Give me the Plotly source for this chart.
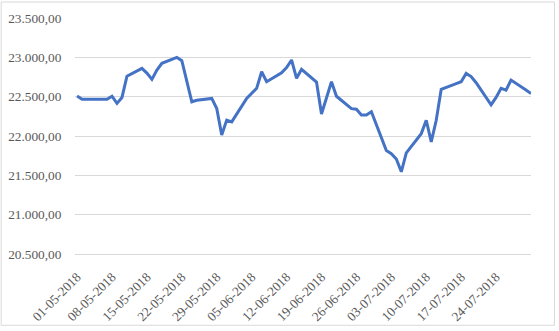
import plotly.graph_objects as go

dates = [
    "2018-05-01", "2018-05-02", "2018-05-03", "2018-05-04", "2018-05-07", "2018-05-08",
    "2018-05-09", "2018-05-10", "2018-05-11", "2018-05-14", "2018-05-15", "2018-05-16",
    "2018-05-17", "2018-05-18", "2018-05-21", "2018-05-22", "2018-05-23", "2018-05-24",
    "2018-05-25", "2018-05-28", "2018-05-29", "2018-05-30", "2018-05-31", "2018-06-01",
    "2018-06-04", "2018-06-05", "2018-06-06", "2018-06-07", "2018-06-08", "2018-06-11",
    "2018-06-12", "2018-06-13", "2018-06-14", "2018-06-15", "2018-06-18", "2018-06-19",
    "2018-06-20", "2018-06-21", "2018-06-22", "2018-06-25", "2018-06-26", "2018-06-27",
    "2018-06-28", "2018-06-29", "2018-07-02", "2018-07-03", "2018-07-04", "2018-07-05",
    "2018-07-06", "2018-07-09", "2018-07-10", "2018-07-11", "2018-07-12", "2018-07-13",
    "2018-07-16", "2018-07-17", "2018-07-18", "2018-07-19", "2018-07-20", "2018-07-23",
    "2018-07-24", "2018-07-25", "2018-07-26", "2018-07-27", "2018-07-30", "2018-07-31",
]
values = [
    22510, 22468, 22468, 22468, 22468, 22506,
    22415, 22490, 22760, 22860, 22800, 22720,
    22838, 22924, 23000, 22957, 22700, 22435,
    22455, 22478, 22350, 22012, 22202, 22180,
    22478, 22540, 22606, 22817, 22690, 22804,
    22870, 22966, 22733, 22847, 22685, 22279,
    22500, 22690, 22505, 22348, 22340, 22266,
    22266, 22308, 21815, 21775, 21708, 21545,
    21785, 22030, 22200, 21926, 22200, 22593,
    22665, 22690, 22796, 22755, 22677, 22395,
    22490, 22606, 22584, 22711, 22585, 22540,
]
tick_dates = [
    "2018-05-01", "2018-05-08", "2018-05-15", "2018-05-22", "2018-05-29", "2018-06-05",
    "2018-06-12", "2018-06-19", "2018-06-26", "2018-07-03", "2018-07-10", "2018-07-17",
    "2018-07-24",
]
tick_labels = [
    "01-05-2018", "08-05-2018", "15-05-2018", "22-05-2018", "29-05-2018", "05-06-2018",
    "12-06-2018", "19-06-2018", "26-06-2018", "03-07-2018", "10-07-2018", "17-07-2018",
    "24-07-2018",
]

W, H = 559, 331
ML, MR, MT, MB = 74.5, 27.5, 18, 77.2
pw, ph = W - ML - MR, H - MT - MB

font = dict(family="Liberation Serif, Times New Roman, serif", size=13.3, color="#595959")

fig = go.Figure()
fig.add_trace(go.Scatter(
    x=dates, y=values, mode="lines",
    line=dict(color="#4472C4", width=3, shape="linear"),
    hoverinfo="skip",
))

def px_x(p):
    return (p - ML) / pw

def px_y(p):
    return (H - MB - p) / ph

fig.add_shape(type="rect", xref="paper", yref="paper",
              x0=px_x(0.5), x1=px_x(555), y0=px_y(325), y1=px_y(2),
              line=dict(color="#d9d9d9", width=1), layer="below")

fig.update_layout(
    width=W, height=H,
    margin=dict(l=ML, r=MR, t=MT, b=MB, pad=0, autoexpand=False),
    paper_bgcolor="white", plot_bgcolor="white",
    showlegend=False,
    separators=",.",
    font=font,
    xaxis=dict(
        type="date", automargin=False,
        range=["2018-04-30 14:00", "2018-07-31"],
        tickmode="array", tickvals=tick_dates, ticktext=tick_labels,
        tickangle=-45, tickfont=font,
        showgrid=False, zeroline=False,
        showline=True, linecolor="#d9d9d9", linewidth=1,
        ticks="outside", ticklen=9, tickcolor="rgba(0,0,0,0)",
    ),
    yaxis=dict(
        automargin=False,
        range=[20500, 23500],
        tickmode="linear", tick0=20500, dtick=500,
        tickformat=",.2f", tickfont=font,
        showgrid=True, gridcolor="#d9d9d9", gridwidth=1,
        zeroline=False, showline=False,
        ticks="outside", ticklen=10, tickcolor="rgba(0,0,0,0)",
    ),
)

fig.write_html("out.html")
